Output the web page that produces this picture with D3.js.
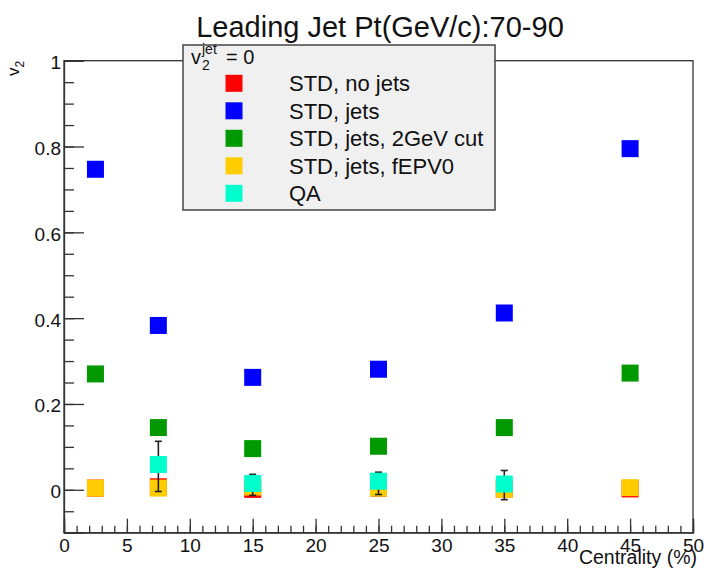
<!DOCTYPE html>
<html>
<head>
<meta charset="utf-8">
<script src="https://cdn.jsdelivr.net/npm/d3@7"></script>
<style>
  body { margin: 0; background: #fff; }
  svg text { font-family: "Liberation Sans", Arial, Helvetica, sans-serif; fill: #111; }
</style>
</head>
<body>
<script>
// centrality bins (x centres)
var centrality = [2.5, 7.5, 15, 25, 35, 45];
var qaCentrality = [7.5, 15, 25, 35];

// v2 values
var stdNoJets   = [0.004, 0.007, 0.001, 0.004, 0.002, 0.002];
var stdJets     = [0.747, 0.383, 0.262, 0.281, 0.412, 0.795];
var stdJets2GeV = [0.270, 0.145, 0.096, 0.1015, 0.145, 0.272];
var stdJetsEPV0 = [0.004, 0.004, 0.0065, 0.004, 0.001, 0.005];
var qaValues    = [0.059, 0.0147, 0.020, 0.0135];
var qaErrLow    = [-0.004, -0.013, -0.011, -0.023];
var qaErrHigh   = [0.113, 0.036, 0.041, 0.045];

var seriesNames = ["STD, no jets", "STD, jets", "STD, jets, 2GeV cut", "STD, jets, fEPV0", "QA"];
var seriesColors = ["#ff0000", "#0000ff", "#009900", "#ffcc00", "#00ffcc"];

var xTicks = [0, 5, 10, 15, 20, 25, 30, 35, 40, 45, 50];
var yTicks = [0, 0.2, 0.4, 0.6, 0.8, 1];

var W = 707, H = 576;
var frame = {left: 64, right: 693, top: 60.7, bottom: 532.7};

var svg = d3.select("body").append("svg")
    .attr("width", W)
    .attr("height", H);

svg.append("rect").attr("width", W).attr("height", H).attr("fill", "#fff");

var x = d3.scaleLinear().domain([0, 50]).range([frame.left, frame.right]);
var y = d3.scaleLinear().domain([-0.1, 1]).range([frame.bottom, frame.top]);

// frame
svg.append("rect")
    .attr("x", frame.left).attr("y", frame.top)
    .attr("width", frame.right - frame.left)
    .attr("height", frame.bottom - frame.top)
    .attr("fill", "none")
    .attr("stroke", "#333")
    .attr("stroke-width", 1.3);

// minor ticks
svg.append("g")
    .attr("transform", "translate(" + frame.left + ",0)")
    .call(d3.axisLeft(y).tickValues(d3.range(-0.1, 1.001, 0.05)).tickSize(-10).tickFormat(""))
    .call(function(g) { g.select(".domain").remove(); g.selectAll("line").attr("stroke", "#333").attr("stroke-width", 1.3); });

svg.append("g")
    .attr("transform", "translate(0," + frame.bottom + ")")
    .call(d3.axisBottom(x).tickValues(d3.range(0, 50.001, 1)).tickSize(-7).tickFormat(""))
    .call(function(g) { g.select(".domain").remove(); g.selectAll("line").attr("stroke", "#333").attr("stroke-width", 1.3); });

// major ticks + labels
var yAxis = svg.append("g")
    .attr("transform", "translate(" + frame.left + ",0)")
    .call(d3.axisLeft(y).tickValues(yTicks).tickSize(-20).tickPadding(3).tickFormat(d3.format("~g")));
yAxis.select(".domain").attr("stroke", "#333").attr("stroke-width", 1.3);
yAxis.selectAll("line").attr("stroke", "#333").attr("stroke-width", 1.3);
yAxis.selectAll("text").attr("font-size", 19).attr("dy", "0.42em").style("font-family", null);

var xAxis = svg.append("g")
    .attr("transform", "translate(0," + frame.bottom + ")")
    .call(d3.axisBottom(x).tickValues(xTicks).tickSize(-14).tickPadding(6));
xAxis.select(".domain").attr("stroke", "#333").attr("stroke-width", 1.3);
xAxis.selectAll("line").attr("stroke", "#333").attr("stroke-width", 1.3);
xAxis.selectAll("text").attr("font-size", 19).style("font-family", null);

// axis titles
svg.append("text")
    .attr("x", frame.right + 4)
    .attr("y", 564)
    .attr("text-anchor", "end")
    .attr("font-size", 19.5)
    .text("Centrality (%)");

var yLab = svg.append("text")
    .attr("transform", "translate(18.5," + (frame.top) + ") rotate(-90)")
    .attr("text-anchor", "end")
    .attr("font-size", 17);
yLab.append("tspan").text("v");
yLab.append("tspan").attr("font-size", 12).attr("dy", 5).text("2");

// title
svg.append("text")
    .attr("x", 380)
    .attr("y", 36.5)
    .attr("text-anchor", "middle")
    .attr("font-size", 29)
    .text("Leading Jet Pt(GeV/c):70-90");

// legend
var legend = svg.append("g");
legend.append("rect")
    .attr("x", 183).attr("y", 45)
    .attr("width", 312).attr("height", 165)
    .attr("fill", "#f0f0f0")
    .attr("stroke", "#444")
    .attr("stroke-width", 1.5);

var head = legend.append("text")
    .attr("x", 191)
    .attr("y", 63.5)
    .attr("font-size", 20);
head.append("tspan").text("v");
head.append("tspan").attr("font-size", 14).attr("x", 202).attr("dy", 6).text("2");
head.append("tspan").attr("font-size", 14).attr("x", 202).attr("dy", -16).text("jet");
head.append("tspan").attr("x", 226).attr("dy", 10).text("= 0");

var rows = legend.selectAll(".row")
    .data(seriesNames)
  .enter().append("g")
    .attr("class", "row")
    .attr("transform", function(d, i) { return "translate(0," + (83.3 + i * 27.5) + ")"; });

rows.append("rect")
    .attr("x", 225.5).attr("y", -8.5)
    .attr("width", 17).attr("height", 17)
    .attr("fill", function(d, i) { return seriesColors[i]; });

rows.append("text")
    .attr("x", 289)
    .attr("y", 7.7)
    .attr("font-size", 22)
    .text(function(d) { return d; });

// data markers
var size = 17;
function drawSeries(xs, vals, color) {
  svg.append("g").selectAll("rect")
      .data(vals)
    .enter().append("rect")
      .attr("x", function(d, i) { return x(xs[i]) - size / 2; })
      .attr("y", function(d) { return y(d) - size / 2; })
      .attr("width", size)
      .attr("height", size)
      .attr("fill", color);
}

drawSeries(centrality, stdNoJets, seriesColors[0]);
drawSeries(centrality, stdJets, seriesColors[1]);
drawSeries(centrality, stdJets2GeV, seriesColors[2]);
drawSeries(centrality, stdJetsEPV0, seriesColors[3]);

// QA error bars (drawn under the QA markers)
var err = svg.append("g").attr("stroke", "#222").attr("stroke-width", 1.6);
qaCentrality.forEach(function(c, i) {
  var cx = x(c);
  err.append("line").attr("x1", cx).attr("x2", cx).attr("y1", y(qaErrLow[i])).attr("y2", y(qaErrHigh[i]));
  err.append("line").attr("x1", cx - 3.5).attr("x2", cx + 3.5).attr("y1", y(qaErrLow[i])).attr("y2", y(qaErrLow[i]));
  err.append("line").attr("x1", cx - 3.5).attr("x2", cx + 3.5).attr("y1", y(qaErrHigh[i])).attr("y2", y(qaErrHigh[i]));
});

drawSeries(qaCentrality, qaValues, seriesColors[4]);
</script>
</body>
</html>
